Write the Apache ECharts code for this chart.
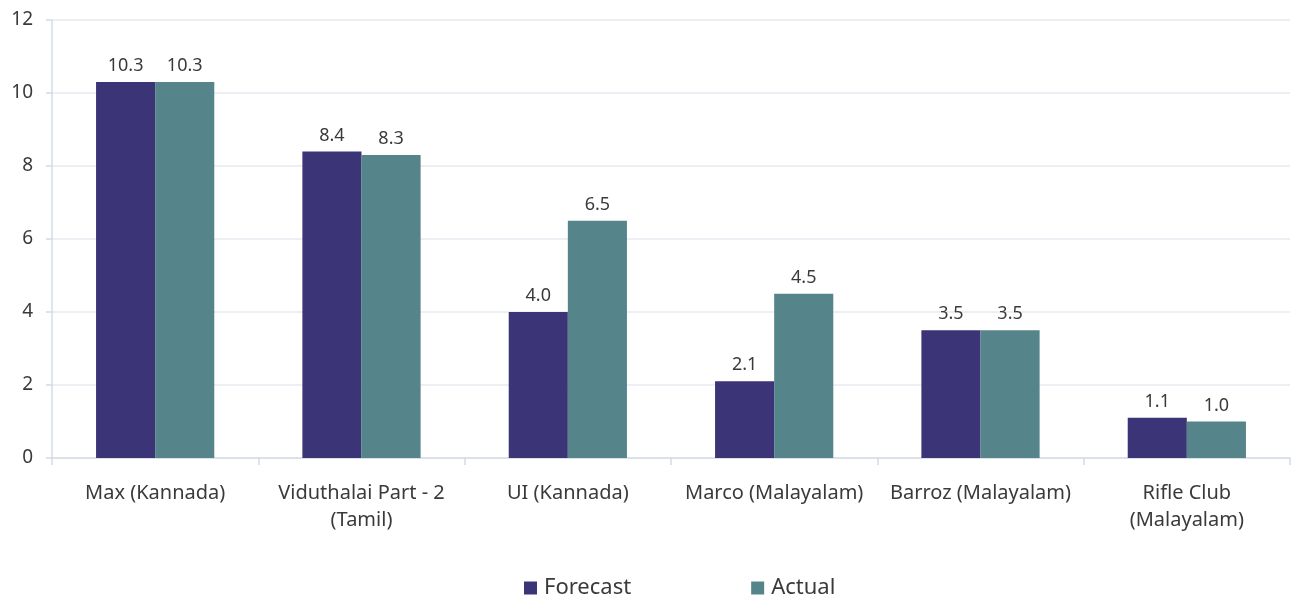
<!DOCTYPE html>
<html>
<head>
<meta charset="utf-8">
<script src="https://cdn.jsdelivr.net/npm/echarts@6/dist/echarts.min.js"></script>
<style>
  html, body { margin: 0; padding: 0; background: #fff; }
  #demo { width: 1294px; height: 597px; }
</style>
</head>
<body>
<div id="demo"></div>
<script>
// 数据
var categories = ['Max (Kannada)', 'Viduthalai Part - 2\n(Tamil)', 'UI (Kannada)',
                  'Marco (Malayalam)', 'Barroz (Malayalam)', 'Rifle Club\n(Malayalam)'];
var forecast = [10.3, 8.4, 4.0, 2.1, 3.5, 1.1];
var actual = [10.3, 8.3, 6.5, 4.5, 3.5, 1.0];

var textColor = '#3a3a3a';
var lineColor = '#d5dce6';
var fontFamily = '"Noto Sans", "Open Sans", sans-serif';

var myChart = echarts.init(document.getElementById('demo'));

var labelStyle = {
    show: true,
    position: 'top',
    distance: 7,
    color: textColor,
    fontSize: 18,
    fontFamily: fontFamily,
    formatter: function (p) { return p.value.toFixed(1); }
};

var option = {
    animation: false,
    textStyle: { fontFamily: fontFamily },
    grid: { left: 52, right: 4, top: 20, bottom: 139 },
    legend: {
        top: 572,
        left: 519,
        itemWidth: 13,
        itemHeight: 13,
        itemGap: 120,
        icon: 'rect',
        textStyle: { color: textColor, fontSize: 22, fontFamily: fontFamily, padding: [0, 0, 0, 2] },
        data: ['Forecast', 'Actual']
    },
    xAxis: {
        type: 'category',
        data: categories,
        axisLine: { lineStyle: { color: lineColor, width: 1.5 } },
        axisTick: { show: true, length: 7, lineStyle: { color: lineColor, width: 1.5 } },
        axisLabel: {
            color: textColor,
            fontSize: 20,
            margin: 22,
            lineHeight: 27,
            interval: 0,
            fontFamily: fontFamily
        }
    },
    yAxis: {
        type: 'value',
        min: 0,
        max: 12,
        interval: 2,
        axisLine: { show: true, lineStyle: { color: lineColor, width: 1.5 } },
        axisTick: { show: true, length: 6, lineStyle: { color: lineColor, width: 1.5 } },
        splitLine: { lineStyle: { color: '#e6ebf1', width: 1.5 } },
        axisLabel: { color: textColor, fontSize: 19, margin: 19, fontFamily: fontFamily }
    },
    series: [
        {
            name: 'Forecast',
            type: 'bar',
            data: forecast,
            barGap: '0%',
            barCategoryGap: '42.7%',
            itemStyle: { color: '#3b3476' },
            label: labelStyle
        },
        {
            name: 'Actual',
            type: 'bar',
            data: actual,
            itemStyle: { color: '#55848a' },
            label: labelStyle
        }
    ]
};

myChart.setOption(option);
window.onresize = function () {
    myChart.resize();
};
</script>
</body>
</html>
